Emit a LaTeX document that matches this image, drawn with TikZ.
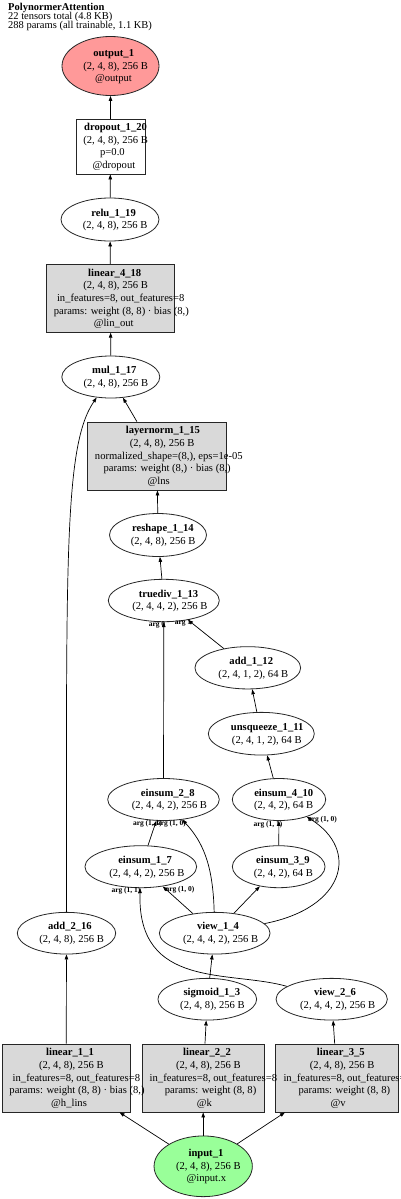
\documentclass[tikz,border=0pt]{standalone}
\usepackage{fontspec}
\setmainfont{Liberation Serif}
\usetikzlibrary{shapes.geometric,arrows.meta}
\definecolor{outred}{RGB}{255,153,153}
\definecolor{ingreen}{RGB}{153,255,153}
\definecolor{boxgray}{RGB}{217,217,217}
\newcommand\Ln[1]{\hbox{\setbox0=\hbox{#1}\kern0.16\wd0\box0\rule[-1.7pt]{0pt}{10pt}}}
\begin{document}
\begin{tikzpicture}[x=1pt,y=-1pt,
  ell/.style={ellipse, draw=black!85, line width=0.8pt, inner sep=0pt, fill=white},
  rbox/.style={rectangle, draw=black!85, line width=0.8pt, inner sep=0pt},
  gbox/.style={rbox, fill=boxgray},
  txt/.style={align=center, inner sep=0pt, font=\fontsize{10.6pt}{12.6pt}\selectfont},
  conn/.style={-{Triangle[length=5pt,width=3.5pt]}, line width=0.7pt},
  lab/.style={font=\bfseries\fontsize{7.5pt}{8pt}\selectfont, inner sep=0pt},
  ttl/.style={anchor=base west, inner sep=0pt, font=\fontsize{10.5pt}{9pt}\selectfont}]
\useasboundingbox (0,0) rectangle (400,1199);
\fill[white] (0,0) rectangle (400,1199);

% title
\node[ttl, font=\bfseries\fontsize{10.5pt}{9pt}\selectfont] (t1) at (8,10.8) {PolynormerAttention};
\node[ttl] (t2) at (8,19.8) {22 tensors total (4.8 KB)};
\node[ttl] (t3) at (8,28.8) {288 params (all trainable, 1.1 KB)};

% shapes
\node[ell, fill=outred, minimum width=97pt, minimum height=59pt] (output1) at (110.5,66) {};
\node[rbox, minimum width=69pt, minimum height=55pt] (dropout120) at (110.5,146.5) {};
\node[ell, minimum width=98pt, minimum height=43pt] (relu119) at (110,219.5) {};
\node[gbox, minimum width=127.6pt, minimum height=68pt] (linear418) at (110.5,298.3) {};
\node[ell, minimum width=98pt, minimum height=42pt] (mul117) at (110.8,377) {};
\node[gbox, minimum width=139.4pt, minimum height=68pt] (layernorm115) at (157,456) {};
\node[ell, minimum width=97pt, minimum height=43pt] (reshape114) at (158,535) {};
\node[ell, minimum width=111pt, minimum height=42.4pt] (truediv113) at (163.8,600.5) {};
\node[ell, minimum width=105.7pt, minimum height=42.3pt] (add112) at (247.8,667.8) {};
\node[ell, minimum width=106pt, minimum height=42.7pt] (unsq111) at (261.3,733.7) {};
\node[ell, minimum width=111.6pt, minimum height=42pt] (einsum28) at (163.5,799.5) {};
\node[ell, minimum width=93.4pt, minimum height=42pt] (einsum410) at (279,799.5) {};
\node[ell, minimum width=111.7pt, minimum height=42pt] (einsum17) at (140.8,866.7) {};
\node[ell, minimum width=92.7pt, minimum height=42pt] (einsum39) at (278.7,866.7) {};
\node[ell, minimum width=98.4pt, minimum height=41.7pt] (add216) at (66.5,933.2) {};
\node[ell, minimum width=110.7pt, minimum height=41.7pt] (view14) at (214.7,933.2) {};
\node[ell, minimum width=98.7pt, minimum height=41.7pt] (sigmoid13) at (207.3,999.2) {};
\node[ell, minimum width=111.3pt, minimum height=41.7pt] (view26) at (331.7,999.2) {};
\node[gbox, minimum width=127.7pt, minimum height=68pt] (linear11) at (66.2,1078) {};
\node[gbox, minimum width=121.7pt, minimum height=68pt] (linear22) at (203.2,1078) {};
\node[gbox, minimum width=122.7pt, minimum height=68pt] (linear35) at (337,1078) {};
\node[ell, fill=ingreen, minimum width=98.3pt, minimum height=60.7pt] (input1) at (203.2,1166.3) {};

% texts
\node[txt] (output1t) at (output1.center) {\Ln{\bfseries output\_1}\\\Ln{(2, 4, 8), 256 B}\\\Ln{@output}};
\node[txt] (dropout120t) at (dropout120.center) {\Ln{\bfseries dropout\_1\_20}\\\Ln{(2, 4, 8), 256 B}\\\Ln{p=0.0}\\\Ln{@dropout}};
\node[txt] (relu119t) at (relu119.center) {\Ln{\bfseries relu\_1\_19}\\\Ln{(2, 4, 8), 256 B}};
\node[txt] (linear418t) at (linear418.center) {\Ln{\bfseries linear\_4\_18}\\\Ln{(2, 4, 8), 256 B}\\\Ln{in\_features=8, out\_features=8}\\\Ln{params: weight (8, 8) · bias (8,)}\\\Ln{@lin\_out}};
\node[txt] (mul117t) at (mul117.center) {\Ln{\bfseries mul\_1\_17}\\\Ln{(2, 4, 8), 256 B}};
\node[txt] (layernorm115t) at (layernorm115.center) {\Ln{\bfseries layernorm\_1\_15}\\\Ln{(2, 4, 8), 256 B}\\\Ln{normalized\_shape=(8,), eps=1e-05}\\\Ln{params: weight (8,) · bias (8,)}\\\Ln{@lns}};
\node[txt] (reshape114t) at (reshape114.center) {\Ln{\bfseries reshape\_1\_14}\\\Ln{(2, 4, 8), 256 B}};
\node[txt] (truediv113t) at (truediv113.center) {\Ln{\bfseries truediv\_1\_13}\\\Ln{(2, 4, 4, 2), 256 B}};
\node[txt] (add112t) at (add112.center) {\Ln{\bfseries add\_1\_12}\\\Ln{(2, 4, 1, 2), 64 B}};
\node[txt] (unsq111t) at (unsq111.center) {\Ln{\bfseries unsqueeze\_1\_11}\\\Ln{(2, 4, 1, 2), 64 B}};
\node[txt] (einsum28t) at (einsum28.center) {\Ln{\bfseries einsum\_2\_8}\\\Ln{(2, 4, 4, 2), 256 B}};
\node[txt] (einsum410t) at (einsum410.center) {\Ln{\bfseries einsum\_4\_10}\\\Ln{(2, 4, 2), 64 B}};
\node[txt] (einsum17t) at (einsum17.center) {\Ln{\bfseries einsum\_1\_7}\\\Ln{(2, 4, 4, 2), 256 B}};
\node[txt] (einsum39t) at (einsum39.center) {\Ln{\bfseries einsum\_3\_9}\\\Ln{(2, 4, 2), 64 B}};
\node[txt] (add216t) at (add216.center) {\Ln{\bfseries add\_2\_16}\\\Ln{(2, 4, 8), 256 B}};
\node[txt] (view14t) at (view14.center) {\Ln{\bfseries view\_1\_4}\\\Ln{(2, 4, 4, 2), 256 B}};
\node[txt] (sigmoid13t) at (sigmoid13.center) {\Ln{\bfseries sigmoid\_1\_3}\\\Ln{(2, 4, 8), 256 B}};
\node[txt] (view26t) at (view26.center) {\Ln{\bfseries view\_2\_6}\\\Ln{(2, 4, 4, 2), 256 B}};
\node[txt] (linear11t) at (linear11.center) {\Ln{\bfseries linear\_1\_1}\\\Ln{(2, 4, 8), 256 B}\\\Ln{in\_features=8, out\_features=8}\\\Ln{params: weight (8, 8) · bias (8,)}\\\Ln{@h\_lins}};
\node[txt] (linear22t) at (linear22.center) {\Ln{\bfseries linear\_2\_2}\\\Ln{(2, 4, 8), 256 B}\\\Ln{in\_features=8, out\_features=8}\\\Ln{params: weight (8, 8)}\\\Ln{@k}};
\node[txt] (linear35t) at (linear35.center) {\Ln{\bfseries linear\_3\_5}\\\Ln{(2, 4, 8), 256 B}\\\Ln{in\_features=8, out\_features=8}\\\Ln{params: weight (8, 8)}\\\Ln{@v}};
\node[txt] (input1t) at (input1.center) {\Ln{\bfseries input\_1}\\\Ln{(2, 4, 8), 256 B}\\\Ln{@input.x}};

% edge labels
\node[lab] (l1) at (157,625) {arg 0};
\node[lab] (l2) at (183,623.3) {arg 1};
\node[lab] (l3) at (147.5,823.8) {arg (1, 1)};
\node[lab] (l4) at (171.5,823.8) {arg (1, 0)};
\node[lab] (l5) at (268,825) {arg (1, 1)};
\node[lab] (l6) at (322.5,820) {arg (1, 0)};
\node[lab] (l7) at (126,891) {arg (1, 1)};
\node[lab] (l8) at (180,890) {arg (1, 0)};

% connectors
\draw[conn] (input1) -- (linear11);
\draw[conn] (input1) -- (linear22);
\draw[conn] (input1) -- (linear35);
\draw[conn] (linear11) -- (add216);
\draw[conn] (linear22) -- (sigmoid13);
\draw[conn] (linear35) -- (view26);
\draw[conn] (sigmoid13) -- (view14);
\draw[conn] (view26) .. controls (230,970) and (137,990) .. (einsum17);
\draw[conn] (view14) -- (einsum17);
\draw[conn] (einsum17) -- (einsum28);
\draw[conn] (view14) .. controls (213,865) and (203,842) .. (einsum28);
\draw[conn] (view14) -- (einsum39);
\draw[conn] (einsum39) -- (einsum410);
\draw[conn] (view14) .. controls (345,908) and (360,850) .. (einsum410);
\draw[conn] (einsum410) -- (unsq111);
\draw[conn] (unsq111) -- (add112);
\draw[conn] (add112) -- (truediv113);
\draw[conn] (einsum28) -- (truediv113);
\draw[conn] (truediv113) -- (reshape114);
\draw[conn] (reshape114) -- (layernorm115);
\draw[conn] (layernorm115) -- (mul117);
\draw[conn] (add216) .. controls (66.5,560) and (64,445) .. (mul117);
\draw[conn] (mul117) -- (linear418);
\draw[conn] (linear418) -- (relu119);
\draw[conn] (relu119) -- (dropout120);
\draw[conn] (dropout120) -- (output1);
\end{tikzpicture}
\end{document}
